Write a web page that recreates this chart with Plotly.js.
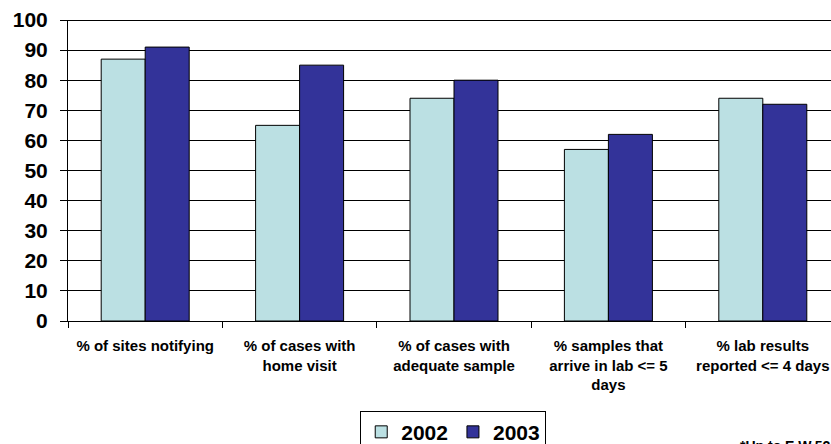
<!DOCTYPE html>
<html>
<head>
<meta charset="utf-8">
<script src="https://cdn.plot.ly/plotly-3.0.1.min.js"></script>
<style>
html,body{margin:0;padding:0;overflow:hidden;background:#fff;width:831px;height:444px;}
#chart{width:850px;height:444px;}
</style>
</head>
<body>
<div id="chart"></div>
<script>
const categories = [
  "% of sites notifying",
  "% of cases with<br>home visit",
  "% of cases with<br>adequate sample",
  "% samples that<br>arrive in lab &lt;= 5<br>days",
  "% lab results<br>reported &lt;= 4 days"
];
const values2002 = [87, 65, 74, 57, 74];
const values2003 = [91, 85, 80, 62, 72];
const seriesNames = ["2002", "2003"];
const yTicks = [0,10,20,30,40,50,60,70,80,90,100];

const FONT = "Arial, 'Liberation Sans', sans-serif";

const data = [
  {type:'bar', name: seriesNames[0], x: categories, y: values2002,
   marker:{color:'#BBE0E3', line:{color:'#000', width:1}}},
  {type:'bar', name: seriesNames[1], x: categories, y: values2003,
   marker:{color:'#333399', line:{color:'#000', width:1}}}
];

const layout = {
  width: 850, height: 444,
  margin: {l: 68, r: 10, t: 20, b: 123, autoexpand: false},
  paper_bgcolor: '#fff', plot_bgcolor: '#fff',
  barmode: 'group', bargap: 0.43, bargroupgap: 0,
  font: {family: FONT, color: '#000'},
  showlegend: true,
  legend: {orientation: 'h', x: 0.499, xanchor: 'center', y: -0.298, yanchor: 'top',
           bordercolor: '#000', borderwidth: 1, font: {family: FONT, size: 21, weight: 700},
           itemwidth: 20, tracegroupgap: 0},
  xaxis: {type: 'category', automargin: false, showline: true, linecolor: '#000', linewidth: 1,
          ticks: 'outside', tickson: 'boundaries', ticklen: 6, tickcolor: '#000',
          ticklabelstandoff: 11,
          tickfont: {family: FONT, size: 15, weight: 700}, showgrid: false},
  yaxis: {range: [0, 100], automargin: false, tickvals: yTicks, showline: true, linecolor: '#000', linewidth: 1,
          ticks: 'outside', ticklen: 7, tickcolor: '#000', ticklabelstandoff: 8,
          showgrid: true, gridcolor: '#000', gridwidth: 1, zeroline: false,
          tickfont: {family: FONT, size: 21, weight: 700}},
  shapes: [{type: 'line', xref: 'paper', yref: 'y', x0: 0, x1: 1, y0: 100, y1: 100,
            line: {color: '#000', width: 2}}],
  annotations: [{xref: 'paper', yref: 'paper', x: (738-68)/772, y: -(446-321)/301,
                 xanchor: 'left', yanchor: 'middle', showarrow: false,
                 text: '*Up to E.W.52', font: {family: FONT, size: 14, weight: 700}}]
};

Plotly.newPlot('chart', data, layout, {displayModeBar: false, staticPlot: true});
</script>
</body>
</html>
